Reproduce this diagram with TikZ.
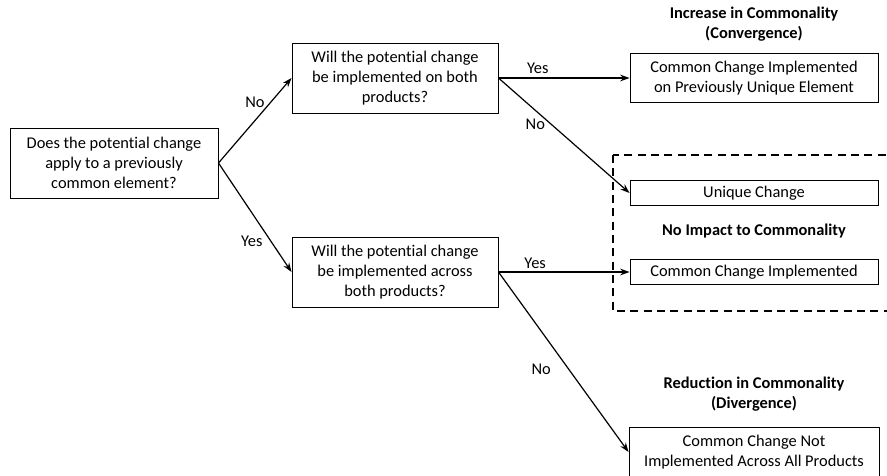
\documentclass[tikz,border=0pt]{standalone}
\usepackage{fontspec}
\setmainfont{Carlito}[Ligatures=CommonOff]
\usetikzlibrary{arrows.meta, positioning}

\begin{document}
\begin{tikzpicture}[
		x=0.75pt, y=-0.75pt, % 1 unidad = 1 pixel de la referencia
		font=\fontsize{12.3pt}{15pt}\selectfont,
		% --- Estilos ---
		caja/.style={
			draw,
			rectangle,
			line width=0.7pt,
			align=center,
			inner sep=2pt
		},
		caja_pregunta/.style={
			caja,
			minimum width=154.5pt,
			minimum height=52.5pt
		},
		caja_resultado/.style={
			caja,
			minimum width=186pt,
			minimum height=19pt
		},
		flecha/.style={
			-{Stealth[length=7pt, width=5pt]},
			line width=0.9pt
		},
		etiqueta/.style={inner sep=1pt},
		titulo/.style={
			font=\fontsize{12.3pt}{15pt}\selectfont\bfseries,
			align=center
		},
		% Marco discontinuo de la zona sin impacto
		marco/.style={
			dash pattern=on 6pt off 4pt,
			line width=1.2pt
		}
		]
		\useasboundingbox (0,0) rectangle (887,475);
		
		% 1. Nodos de pregunta
		\node[caja_pregunta, minimum width=156pt] (previo) at (114,163)
		{Does the potential change\\apply to a previously\\common element?};
		\node[caja_pregunta] (ambos) at (395,78)
		{Will the potential change\\be implemented on both\\products?};
		\node[caja_pregunta] (todos) at (395,272)
		{Will the potential change\\be implemented across\\both products?};
		
		% 2. Nodos de resultado
		\node[caja_resultado, minimum height=37pt] (convergencia) at (754,78)
		{Common Change Implemented\\on Previously Unique Element};
		\node[caja_resultado] (unico) at (754,193) {Unique Change};
		\node[caja_resultado] (comun) at (754,272) {Common Change Implemented};
		\node[caja_resultado, minimum width=187.5pt, minimum height=37.5pt] (divergencia) at (754,452)
		{Common Change Not\\Implemented Across All Products};
		
		% 3. Titulos de cada zona
		\node[titulo] (t_aumento) at (754,24) {Increase in Commonality\\(Convergence)};
		\node[titulo] (t_sin) at (754,231) {No Impact to Commonality};
		\node[titulo] (t_reduccion) at (754,394) {Reduction in Commonality\\(Divergence)};
		
		% 4. Marco discontinuo (sale por la derecha)
		\draw[marco] (613,155) rectangle (900,311);
		
		% 5. Flechas con sus etiquetas
		\draw[flecha] (previo.east) -- node[etiqueta, pos=0.5, above=8pt] (e_no_ambos) {No} (ambos.west);
		\draw[flecha] (previo.east) -- node[etiqueta, pos=0.72, left=5pt] (e_si_todos) {Yes} (todos.west);
		\draw[flecha] (ambos.east) -- node[etiqueta, pos=0.3, above=2pt] (e_si_conv) {Yes} (convergencia.west);
		\draw[flecha] (ambos.east) -- node[etiqueta, pos=0.4, left=3pt] (e_no_unico) {No} (unico.west);
		\draw[flecha] (todos.east) -- node[etiqueta, pos=0.28, above=1pt] (e_si_comun) {Yes} (comun.west);
		\draw[flecha] (todos.east) -- node[etiqueta, pos=0.54, left=12pt] (e_no_div) {No} (divergencia.west);
		
	\end{tikzpicture}
\end{document}
